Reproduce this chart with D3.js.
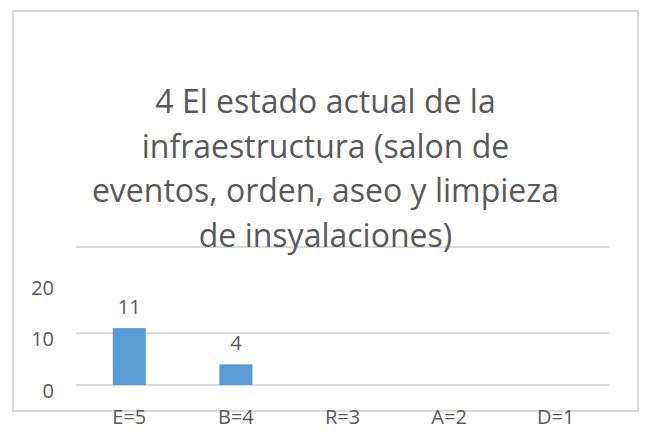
<!DOCTYPE html>
<html>
<head>
<meta charset="utf-8">
<script src="https://cdn.jsdelivr.net/npm/d3@7"></script>
<style>
  body { margin: 0; background: #fff; }
  text { font-family: "Open Sans", sans-serif; fill: #595959; }
</style>
</head>
<body>
<svg id="chart"></svg>
<script>
var categories = ["E=5", "B=4", "R=3", "A=2", "D=1"];
var values     = [11, 4, 0, 0, 0];
var tickValues = [0, 10, 20];
var gridValues = [0, 10];
var titleLines = ["4 El estado actual de la", "infraestructura (salon de",
                  "eventos, orden, aseo y limpieza", "de insyalaciones)"];

var w = 645, h = 430;
var plotLeft = 76, plotRight = 609, plotTop = 247, plotBottom = 385;

var svg = d3.select("#chart").attr("width", w).attr("height", h);

// outer frame
svg.append("rect")
  .attr("x", 13).attr("y", 11)
  .attr("width", 625).attr("height", 400)
  .attr("fill", "#fff").attr("stroke", "#d9d9d9").attr("stroke-width", 2);

var x = d3.scaleBand().domain(categories).range([plotLeft, plotRight]).paddingInner(0.69).paddingOuter(0.345);
var y = d3.scaleLinear().domain([0, 20]).range([plotBottom, plotBottom - 103.5]);

// plot top line
svg.append("line")
  .attr("x1", plotLeft).attr("x2", plotRight)
  .attr("y1", plotTop).attr("y2", plotTop)
  .attr("stroke", "#d9d9d9").attr("stroke-width", 2);

// gridlines
svg.selectAll("line.grid").data(gridValues).enter().append("line")
  .attr("class", "grid")
  .attr("x1", plotLeft).attr("x2", plotRight)
  .attr("y1", function(d) { return y(d); })
  .attr("y2", function(d) { return y(d); })
  .attr("stroke", "#d9d9d9").attr("stroke-width", 2);

// y tick labels
svg.selectAll("text.ytick").data(tickValues).enter().append("text")
  .attr("class", "ytick")
  .attr("x", 54)
  .attr("y", function(d) { return y(d) + 13; })
  .attr("text-anchor", "end")
  .attr("font-size", 20)
  .text(function(d) { return d; });

// bars
svg.selectAll("rect.bar").data(values).enter().append("rect")
  .attr("class", "bar")
  .attr("x", function(d, i) { return x(categories[i]); })
  .attr("width", x.bandwidth())
  .attr("y", function(d) { return y(d); })
  .attr("height", function(d) { return y(0) - y(d); })
  .attr("fill", "#5b9bd5");

// data labels
svg.selectAll("text.dlabel").data(values.filter(function(d) { return d > 0; })).enter().append("text")
  .attr("class", "dlabel")
  .attr("x", function(d, i) { return x(categories[i]) + x.bandwidth() / 2; })
  .attr("y", function(d) { return y(d) - 14; })
  .attr("text-anchor", "middle")
  .attr("font-size", 20)
  .text(function(d) { return d; });

// category labels
svg.selectAll("text.xtick").data(categories).enter().append("text")
  .attr("class", "xtick")
  .attr("x", function(d) { return x(d) + x.bandwidth() / 2; })
  .attr("y", 424)
  .attr("text-anchor", "middle")
  .attr("font-size", 20)
  .text(function(d) { return d; });

// title
svg.selectAll("text.title").data(titleLines).enter().append("text")
  .attr("class", "title")
  .attr("x", 325.5)
  .attr("y", function(d, i) { return 113 + i * 44.7; })
  .attr("text-anchor", "middle")
  .attr("font-size", 32)
  .text(function(d) { return d; });
</script>
</body>
</html>
